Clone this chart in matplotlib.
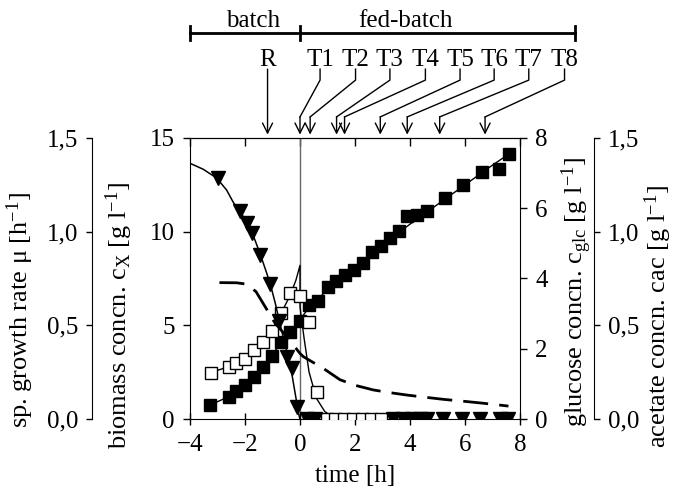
import matplotlib
matplotlib.use("Agg")
import matplotlib.pyplot as plt
from matplotlib.ticker import FuncFormatter

plt.rcParams['font.family'] = ['Liberation Serif', 'DejaVu Serif']
plt.rcParams['mathtext.fontset'] = 'custom'
plt.rcParams['mathtext.rm'] = 'Liberation Serif'
plt.rcParams['mathtext.it'] = 'Liberation Serif:italic'
plt.rcParams['font.size'] = 18

# biomass, filled squares [g/l]
t_bio = [-3.27, -2.59, -2.32, -2.0, -1.68, -1.35, -1.03, -0.69, -0.36, 0.0,
         0.33, 0.67, 1.01, 1.32, 1.64, 1.95, 2.3, 2.61, 2.94, 3.27, 3.6, 3.9,
         4.27, 4.61, 5.27, 5.94, 6.61, 7.25, 7.6]
bio = [0.75, 1.19, 1.5, 1.82, 2.22, 2.8, 3.37, 4.09, 4.62, 5.25,
       6.06, 6.28, 7.03, 7.35, 7.71, 7.98, 8.34, 8.92, 9.23, 9.68, 10.03, 10.83,
       10.9, 11.1, 11.82, 12.47, 13.18, 13.32, 14.12]
t_bio_fit = [0.0, 0.3, 1.0, 2.0, 3.0, 4.0, 5.0, 6.0, 7.0, 7.65]
bio_fit = [5.3, 5.9, 6.9, 8.15, 9.3, 10.4, 11.45, 12.5, 13.55, 14.2]

# glucose, filled triangles [g/l]
t_glc = [-2.99, -2.18, -1.92, -1.75, -1.45, -1.09, -0.77, -0.46, -0.30, -0.10,
         0.24, 0.55, 3.39, 3.76, 4.06, 4.36, 4.61, 5.21, 5.88, 6.55, 7.27, 7.58]
glc = [6.86, 5.91, 5.57, 5.30, 4.67, 3.83, 2.78, 1.77, 1.44, 0.34,
       0, 0, 0, 0, 0, 0, 0, 0, 0, 0, 0, 0]
t_glc_fit = [-4.0, -3.52, -3.03, -2.67, -2.42, -2.18, -1.88, -1.64, -1.45, -1.27,
             -1.09, -0.9, -0.76, -0.6, -0.43, -0.3, -0.18, -0.1, -0.03, 0.0]
glc_fit = [7.28, 7.11, 6.86, 6.52, 6.16, 5.91, 5.53, 5.10, 4.70, 4.29,
           3.87, 3.3, 2.82, 2.3, 1.77, 1.3, 0.75, 0.38, 0.08, 0.0]

# acetate, open squares [g/l]
t_ac = [-3.25, -2.57, -2.33, -2.0, -1.67, -1.35, -1.03, -0.70, -0.36, 0.0,
        0.33, 0.63, 0.97, 1.28, 1.6, 1.93, 2.27, 2.6, 2.95]
ac = [0.248, 0.280, 0.298, 0.321, 0.366, 0.409, 0.471, 0.566, 0.673, 0.655,
      0.516, 0.146, 0, 0, 0, 0, 0, 0, 0]
t_ac_fit = [-3.25, -2.57, -2.0, -1.35, -1.03, -0.7, -0.36, -0.15, 0.0, 0.0,
            0.04, 0.15, 0.33, 0.6, 0.9, 1.2, 1.5]
ac_fit = [0.248, 0.28, 0.325, 0.41, 0.47, 0.56, 0.66, 0.74, 0.82, 0.6,
          0.55, 0.43, 0.25, 0.11, 0.04, 0.01, 0.0]

# specific growth rate, dashed [1/h]
t_mu = [-2.93, -2.3, -1.95, -1.6, -1.27, -0.9, -0.48, 0.0, 0.12, 0.5, 0.85,
        1.45, 2.0, 2.67, 3.3, 3.88, 4.5, 5.21, 6.0, 6.67, 7.58]
mu = [0.728, 0.727, 0.72, 0.68, 0.60, 0.51, 0.44, 0.35, 0.333, 0.30, 0.27,
      0.21, 0.18, 0.155, 0.14, 0.128, 0.117, 0.105, 0.094, 0.084, 0.069]

# sampling marks above the plot
r_label = -1.18
t_labels = ['T1', 'T2', 'T3', 'T4', 'T5', 'T6', 'T7', 'T8']
t_label_x = [0.73, 2.02, 3.27, 4.56, 5.82, 7.06, 8.32, 9.62]
t_tips = [0.0, 0.37, 1.33, 1.62, 2.92, 3.9, 5.08, 6.73]


def comma(v, pos):
    return ('%.1f' % v).replace('.', ',')


fig = plt.figure(figsize=(6.74, 4.93), dpi=100)
ax = fig.add_axes([0.2819, 0.1501, 0.4896, 0.570])
ax_ac = ax.twinx()
ax_glc = ax.twinx()
ax_mu = ax.twinx()

# biomass
ax.plot(t_bio[:10], bio[:10], '-', color='k', lw=1)
ax.plot(t_bio_fit, bio_fit, '-', color='k', lw=1)
ax.plot(t_bio, bio, 's', color='k', ms=8.4, mec='k')
ax.axvline(0, color='0.4', lw=1, zorder=1)
ax.set_xlim(-4, 8)
ax.set_ylim(0, 15)
ax.set_xticks([-4, -2, 0, 2, 4, 6, 8])
ax.set_yticks([0, 5, 10, 15])
ax.tick_params(axis='x', direction='inout', length=9, width=1, pad=6)
ax.tick_params(axis='y', direction='out', length=5, width=1, pad=6)
ax.spines['right'].set_visible(False)
ax.set_xlabel('time [h]')
ax.xaxis.set_label_coords(0.5, -0.165)
ax.set_ylabel(r'biomass concn. c$_\mathrm{X}$ [g l$^{-1}$]', fontsize=19)
ax.yaxis.set_label_coords(-0.167, 0.367)
top = ax.secondary_xaxis('top')
top.set_xticks([-4, -2, 0, 2, 4, 6, 8])
top.tick_params(direction='in', length=6, width=1, labeltop=False)

# acetate
ax_ac.plot(t_ac_fit, ac_fit, '-', color='k', lw=1)
ax_ac.plot(t_ac, ac, 's', mfc='white', mec='k', mew=1, ms=8.4)
ax_ac.set_ylim(0, 1.5)
ax_ac.set_yticks([0, 0.5, 1.0, 1.5])
ax_ac.yaxis.set_major_formatter(FuncFormatter(comma))
for s in ['top', 'bottom', 'left']:
    ax_ac.spines[s].set_visible(False)
ax_ac.spines['right'].set_position(('axes', 1.224))
ax_ac.tick_params(axis='y', direction='out', length=4, width=1, pad=6)
ax_ac.set_ylabel(r'acetate concn. cac [g l$^{-1}$]', fontsize=19)
ax_ac.yaxis.set_label_coords(1.37, 0.363)

# glucose
ax_glc.plot(t_glc_fit, glc_fit, '-', color='k', lw=1.1)
ax_glc.plot(t_glc, glc, 'v', color='k', ms=9.5)
ax_glc.set_ylim(0, 8)
ax_glc.set_yticks([0, 2, 4, 6, 8])
for s in ['top', 'bottom', 'left']:
    ax_glc.spines[s].set_visible(False)
ax_glc.tick_params(axis='y', direction='out', length=5, width=1, pad=6)
ax_glc.set_ylabel(r'glucose concn. c$_\mathrm{glc}$ [g l$^{-1}$]', fontsize=19)
ax_glc.yaxis.set_label_coords(1.118, 0.452)

# growth rate
ax_mu.plot(t_mu, mu, color='k', lw=2, dashes=(9, 4))
ax_mu.set_ylim(0, 1.5)
ax_mu.set_yticks([0, 0.5, 1.0, 1.5])
ax_mu.yaxis.set_major_formatter(FuncFormatter(comma))
for s in ['top', 'bottom', 'right']:
    ax_mu.spines[s].set_visible(False)
ax_mu.spines['left'].set_visible(True)
ax_mu.spines['left'].set_position(('axes', -0.297))
ax_mu.yaxis.tick_left()
ax_mu.yaxis.set_label_position('left')
ax_mu.tick_params(axis='y', direction='out', length=4, width=1, pad=6)
ax_mu.set_ylabel(r'sp. growth rate μ [h$^{-1}$]', fontsize=19)
ax_mu.yaxis.set_label_coords(-0.467, 0.388)

# phase bar and sampling arrows
trans = ax.get_xaxis_transform()
y_bar = 1.372
ax.plot([-4, 10], [y_bar, y_bar], color='k', lw=2, transform=trans, clip_on=False)
for xc in [-4, 0, 10]:
    ax.plot([xc, xc], [y_bar - 0.025, y_bar + 0.025], color='k', lw=2,
            transform=trans, clip_on=False)
ax.text(-1.71, 1.415, 'batch', ha='center', va='center', transform=trans)
ax.text(3.82, 1.415, 'fed-batch', ha='center', va='center', transform=trans)

y_tip, y_knee, y_diag, y_start, y_lab = 1.012, 1.075, 1.206, 1.245, 1.278
arrow = dict(arrowstyle='->', lw=1, color='k', shrinkA=0, shrinkB=0,
             mutation_scale=18)
ax.text(r_label, y_lab, 'R', ha='center', va='center', transform=trans)
ax.annotate('', xy=(r_label, y_tip), xytext=(r_label, y_start),
            xycoords=trans, textcoords=trans, arrowprops=arrow,
            annotation_clip=False)
for name, lx, tip in zip(t_labels, t_label_x, t_tips):
    ax.text(lx, y_lab, name, ha='center', va='center', transform=trans)
    ax.plot([lx, lx, tip], [y_start, y_diag, y_knee], color='k', lw=1,
            transform=trans, clip_on=False)
    ax.annotate('', xy=(tip, y_tip), xytext=(tip, y_knee),
                xycoords=trans, textcoords=trans, arrowprops=arrow,
                annotation_clip=False)

fig.savefig('out.png', dpi=100)
